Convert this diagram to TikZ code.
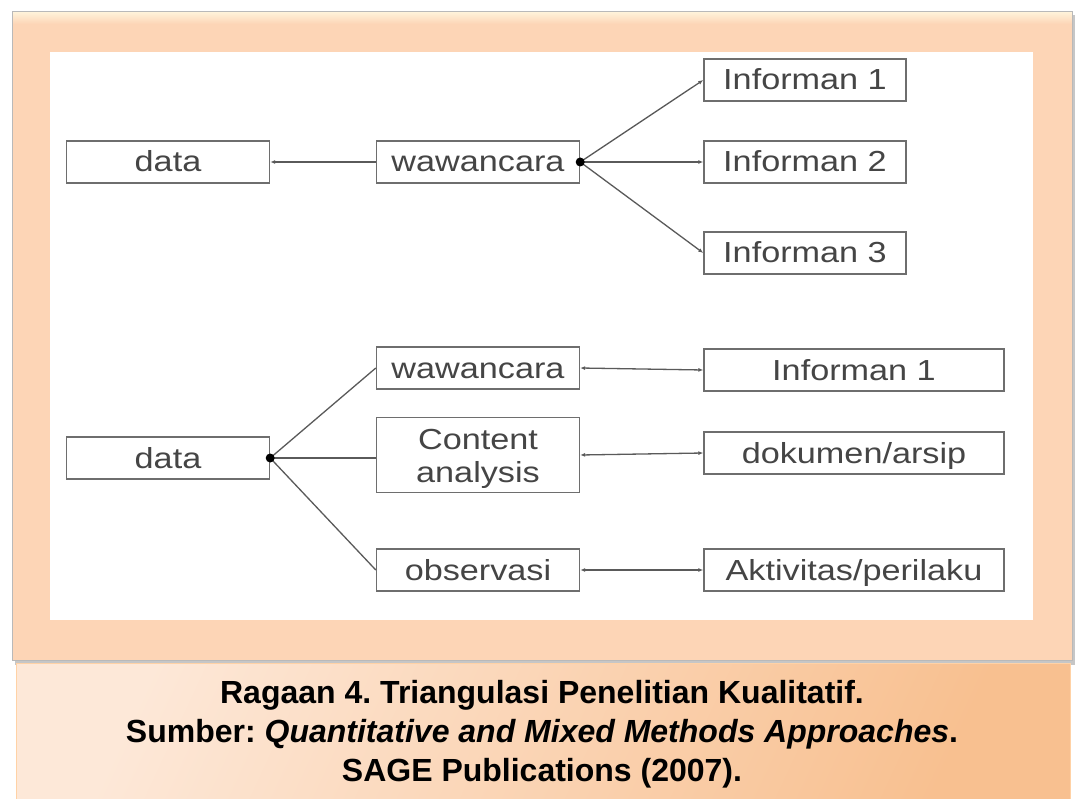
\documentclass[tikz,border=0pt]{standalone}
\usepackage{fontspec}
\setmainfont{Liberation Sans}
\newfontfamily\boxfont[FakeStretch=1.18]{Liberation Sans}
\usetikzlibrary{arrows.meta, positioning}
\definecolor{framepeach}{HTML}{FDD5B6}
\definecolor{framelight}{HTML}{FFF3DA}
\definecolor{boxgray}{HTML}{6E6E6E}
\definecolor{linegray}{HTML}{5A5A5A}
\definecolor{txtgray}{HTML}{454545}
\definecolor{capleft}{HTML}{FDE8D8}
\definecolor{capright}{HTML}{F8C090}
\frenchspacing

\begin{document}
\begin{tikzpicture}[x=1pt, y=-1pt,
    box/.style={draw=boxgray, line width=1.4pt, fill=white, minimum width=203pt,
      minimum height=42pt, inner sep=0pt, text=txtgray, text height=24pt, text depth=4pt,
      font=\boxfont\fontsize{29}{33}\selectfont},
    widebox/.style={box, minimum width=300pt},
    link/.style={draw=linegray, line width=1.3pt},
    tip/.style={-{Latex[length=5pt,width=4pt]}},
    tips/.style={{Latex[length=5pt,width=4pt]}-{Latex[length=5pt,width=4pt]}},
    caption/.style={font=\bfseries\fontsize{32}{34}\selectfont}]
    \useasboundingbox (0,0) rectangle (1075,799);

    % Draw the frame
    \fill[gray!45] (15,15) rectangle (1075,665);
    \fill[framepeach] (12,12) rectangle (1072,660);
    \shade[top color=framelight, bottom color=framepeach] (12,12) rectangle (1072,24);
    \draw[gray!55, line width=1pt] (12,12) rectangle (1072,660);
    \fill[white] (50,52) rectangle (1033,620);

    % Draw the caption box
    \shade[left color=capleft, right color=capright, shading angle=65]
      (16,663) rectangle (1070,799);
    \draw[orange!35, line width=1pt] (16,799) -- (16,663) -- (1070,663) -- (1070,799);

    % Top: wawancara with three informants
    \node[box] (data1) at (168,162) {data};
    \node[box] (waw1) at (478,162) {wawancara};
    \node[box, minimum width=202pt] (inf1) at (805,80) {Informan 1};
    \node[box, minimum width=202pt] (inf2) at (805,162) {Informan 2};
    \node[box, minimum width=202pt] (inf3) at (805,253) {Informan 3};
    \coordinate (hub1) at (waw1.east);

    \draw[link, tip] (waw1.west) -- (data1.east);
    \draw[link, tip] (hub1) -- (inf1.west);
    \draw[link, tip] (hub1) -- (inf2.west);
    \draw[link, tip] (hub1) -- (inf3.west);
    \fill[black] (hub1) circle (4.5);

    % Bottom: data from three methods
    \node[box] (data2) at (168,458) {data};
    \node[box] (waw2) at (478,368) {wawancara};
    \node[box, minimum height=75pt, text height=, text depth=, align=center] (cont) at (478,455) {\rule{0pt}{29pt}Content\\analysis};
    \node[box] (obs) at (478,570) {observasi};
    \node[widebox] (inf4) at (854,370) {Informan 1};
    \node[widebox] (dok) at (854,453) {dokumen/arsip};
    \node[widebox] (akt) at (854,570) {Aktivitas/perilaku};
    \coordinate (hub2) at (data2.east);

    \draw[link] (hub2) -- (waw2.west);
    \draw[link] (hub2) -- (cont.west |- hub2);
    \draw[link] (hub2) -- (obs.west);
    \fill[black] (hub2) circle (4.5);

    \draw[link, tips] (waw2.east) -- (inf4.west);
    \draw[link, tips] (cont.east) -- (dok.west);
    \draw[link, tips] (obs.east) -- (akt.west);

    % Caption text
    \node[caption] (cap1) at (542,695) {Ragaan 4. Triangulasi Penelitian Kualitatif.};
    \node[caption] (cap2) at (542,734) {Sumber: \textit{Quantitative and Mixed Methods Approaches}.};
    \node[caption] (cap3) at (542,773) {SAGE Publications (2007).};
\end{tikzpicture}
\end{document}
